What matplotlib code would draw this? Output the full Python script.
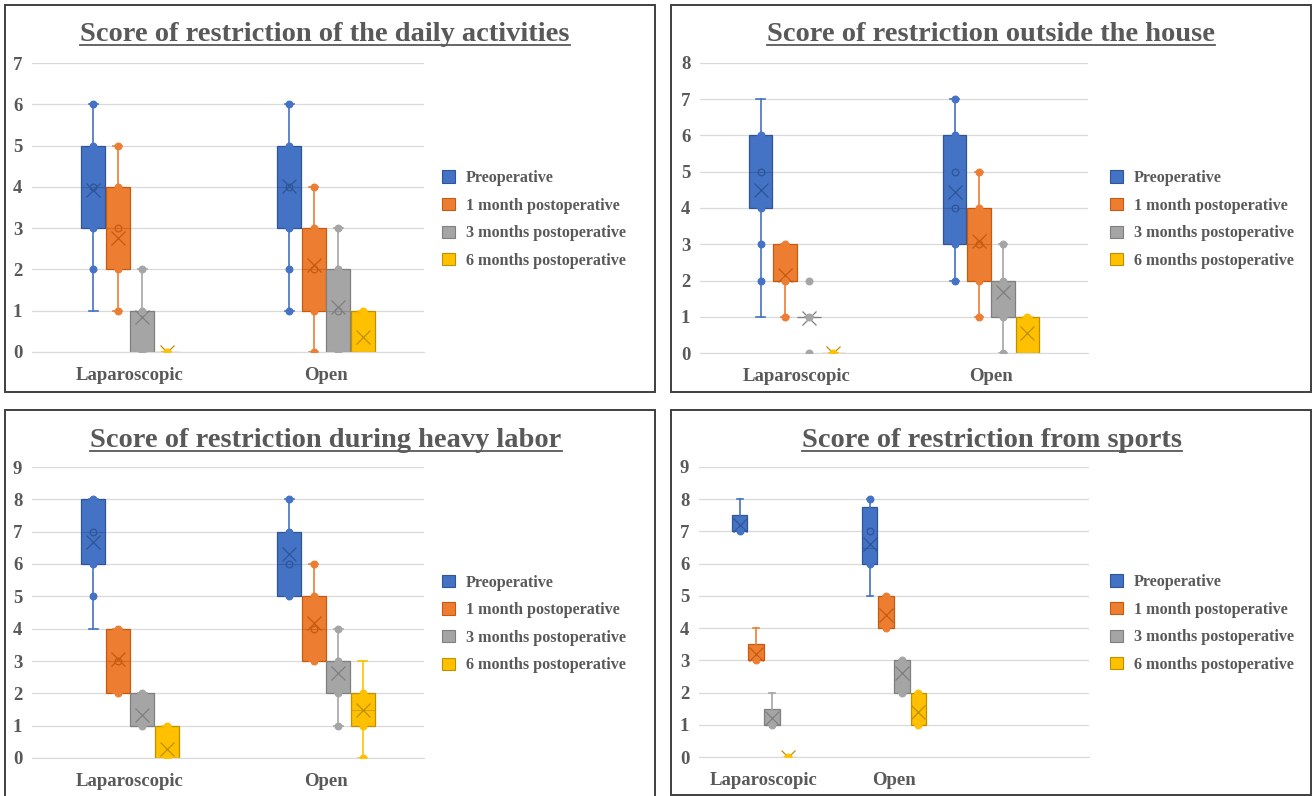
import matplotlib
matplotlib.use("Agg")
import matplotlib.pyplot as plt
from matplotlib.patches import Patch, Rectangle
from matplotlib.lines import Line2D

# ------------------------------------------------------------------
# DATA  (one row per approach: [pre, 1 month, 3 months, 6 months])
# ------------------------------------------------------------------
groups = ["Laparoscopic", "Open"]
series = ["Preoperative", "1 month postoperative",
          "3 months postoperative", "6 months postoperative"]

# daily activities
daily_low  = [[1, 1, 0, 0], [1, 0, 0, 0]]
daily_q1   = [[3, 2, 0, 0], [3, 1, 0, 0]]
daily_med  = [[4, 3, 1, 0], [4, 2, 1, 0]]
daily_q3   = [[5, 4, 1, 0], [5, 3, 2, 1]]
daily_high = [[6, 5, 2, 0], [6, 4, 3, 1]]
daily_mean = [[3.93, 2.77, 0.85, 0.0], [4.03, 2.1, 1.1, 0.37]]
daily_pts  = [[[6, 5, 4, 3, 2], [5, 4, 3, 2, 1], [2, 1, 0], [0]],
              [[6, 5, 4, 3, 2, 1], [4, 3, 2, 1, 0], [3, 2, 1, 0], [1]]]

# outside the house
house_low  = [[1, 1, 1, 0], [2, 1, 0, 0]]
house_q1   = [[4, 2, 1, 0], [3, 2, 1, 0]]
house_med  = [[5, 2, 1, 0], [4, 3, 2, 0]]
house_q3   = [[6, 3, 1, 0], [6, 4, 2, 1]]
house_high = [[7, 3, 1, 0], [7, 5, 3, 1]]
house_mean = [[4.5, 2.15, 0.97, 0.0], [4.43, 3.1, 1.67, 0.55]]
house_pts  = [[[6, 5, 4, 3, 2], [3, 2, 1], [2, 1, 0], [0]],
              [[7, 6, 5, 4, 3, 2], [5, 4, 3, 2, 1], [3, 2, 1, 0], [1]]]

# heavy labor
labor_low  = [[4, 2, 1, 0], [5, 3, 1, 0]]
labor_q1   = [[6, 2, 1, 0], [5, 3, 2, 1]]
labor_med  = [[7, 3, 1, 0], [6, 4, 3, 1.5]]
labor_q3   = [[8, 4, 2, 1], [7, 5, 3, 2]]
labor_high = [[8, 4, 2, 1], [8, 6, 4, 3]]
labor_mean = [[6.67, 3.07, 1.33, 0.27], [6.32, 4.17, 2.62, 1.5]]
labor_pts  = [[[8, 7, 6, 5], [4, 3, 2], [2, 1], [1, 0]],
              [[8, 7, 6, 5], [6, 5, 4, 3], [4, 3, 2, 1], [2, 1, 0]]]

# sports
sport_low  = [[7, 3, 1, 0], [5, 4, 2, 1]]
sport_q1   = [[7, 3, 1, 0], [6, 4, 2, 1]]
sport_med  = [[7, 3, 1, 0], [6.5, 4, 3, 1]]
sport_q3   = [[7.5, 3.5, 1.5, 0], [7.75, 5, 3, 2]]
sport_high = [[8, 4, 2, 0], [8, 5, 3, 2]]
sport_mean = [[7.2, 3.2, 1.2, 0.0], [6.6, 4.4, 2.6, 1.4]]
sport_pts  = [[[7], [3], [1], [0]],
              [[8, 7, 6], [5, 4], [3, 2], [2, 1]]]

# ------------------------------------------------------------------
# STYLE
# ------------------------------------------------------------------
FILL = ["#4472C4", "#ED7D31", "#A5A5A5", "#FFC000"]
EDGE = ["#2F5597", "#C55A11", "#7F7F7F", "#BF9000"]
TXT = "#595959"
GRID = "#D9D9D9"
SERIF = "Liberation Serif"

W, H = 1314, 796
fig = plt.figure(figsize=(W / 100, H / 100), dpi=100)


def fx(px):
    return px / W


def fy(py):
    return 1 - py / H


# panel layout in pixels: frame box, plot area, title centre, legend anchor
panels = [
    dict(title="Score of restriction of the daily activities", ymax=7, ncat=2,
         stats=(daily_low, daily_q1, daily_med, daily_q3, daily_high, daily_mean, daily_pts),
         frame=(5, 5, 655, 392), plot=(32, 63, 424, 352), tx=325, ty=41, leg=(442, 219.5)),
    dict(title="Score of restriction outside the house", ymax=8, ncat=2,
         stats=(house_low, house_q1, house_med, house_q3, house_high, house_mean, house_pts),
         frame=(671, 5, 1311, 392), plot=(700, 63, 1088, 353), tx=991, ty=41, leg=(1110, 219.5)),
    dict(title="Score of restriction during heavy labor", ymax=9, ncat=2,
         stats=(labor_low, labor_q1, labor_med, labor_q3, labor_high, labor_mean, labor_pts),
         frame=(5, 410, 655, 805), plot=(32, 467, 424, 758), tx=326, ty=447, leg=(442, 624)),
    dict(title="Score of restriction from sports", ymax=9, ncat=3,
         stats=(sport_low, sport_q1, sport_med, sport_q3, sport_high, sport_mean, sport_pts),
         frame=(671, 410, 1311, 795), plot=(699, 467, 1089, 757), tx=992, ty=447, leg=(1110, 623.5)),
]

BOX_W = 0.12
STEP = 0.125
titles = []

for p in panels:
    x0, y0, x1, y1 = p["plot"]
    ax = fig.add_axes([fx(x0), fy(y1), fx(x1 - x0), (y1 - y0) / H])
    low, q1, med, q3, high, mean, pts = p["stats"]

    for g in range(len(groups)):
        for s in range(len(series)):
            pos = g + (s - 1.5) * STEP
            st = dict(whislo=low[g][s], q1=q1[g][s], med=med[g][s], q3=q3[g][s],
                      whishi=high[g][s], mean=mean[g][s], fliers=[])
            ax.bxp([st], positions=[pos], widths=BOX_W, patch_artist=True,
                   showmeans=True, showfliers=False, capwidths=0.045,
                   boxprops=dict(facecolor=FILL[s], edgecolor=EDGE[s], linewidth=0.9),
                   whiskerprops=dict(color=FILL[s], linewidth=1.2),
                   capprops=dict(color=FILL[s], linewidth=1.2),
                   medianprops=dict(color=EDGE[s], linewidth=0.8, alpha=0.6),
                   meanprops=dict(marker="x", markersize=9.5, markeredgecolor=EDGE[s],
                                  markeredgewidth=0.9, markerfacecolor="none"))
            # individual scores: hollow inside the box, solid outside it
            for v in pts[g][s]:
                inside = q1[g][s] < v < q3[g][s]
                ax.plot(pos, v, "o", ms=4.8, zorder=4,
                        markerfacecolor="none" if inside else FILL[s],
                        markeredgecolor=EDGE[s] if inside else FILL[s],
                        markeredgewidth=0.9)

    ax.set_xlim(-0.5, p["ncat"] - 0.5)
    ax.set_ylim(0, p["ymax"])
    ax.set_yticks(range(p["ymax"] + 1))
    ax.set_xticks(range(len(groups)))
    ax.set_xticklabels(groups)
    ax.grid(axis="y", color=GRID, linewidth=0.9, zorder=0)
    ax.set_axisbelow(True)
    for side in ("top", "right", "left"):
        ax.spines[side].set_visible(False)
    ax.spines["bottom"].set_color(GRID)
    ax.tick_params(axis="y", length=0, pad=7)
    ax.tick_params(axis="x", length=0, pad=11)
    for lab in ax.get_xticklabels() + ax.get_yticklabels():
        lab.set_fontfamily(SERIF)
        lab.set_fontweight("bold")
        lab.set_fontsize(13.5)
        lab.set_color(TXT)

    handles = [Patch(facecolor=FILL[i], edgecolor=EDGE[i], linewidth=0.8) for i in range(4)]
    lx, ly = p["leg"]
    ax.legend(handles, series, loc="center left", bbox_to_anchor=(fx(lx), fy(ly)),
              bbox_transform=fig.transFigure, frameon=False, borderpad=0, borderaxespad=0,
              handlelength=0.8, handleheight=0.8, handletextpad=0.7, labelspacing=0.72,
              prop=dict(family=SERIF, weight="bold", size=11.6), labelcolor=TXT)

    t = fig.text(fx(p["tx"]), fy(p["ty"]), p["title"], ha="center", va="baseline",
                 fontsize=20.5, fontweight="bold", family=SERIF, color=TXT)
    titles.append(t)

    fx0, fy0, fx1, fy1 = p["frame"]
    fig.add_artist(Rectangle((fx(fx0), fy(fy1)), fx(fx1 - fx0), (fy1 - fy0) / H,
                             transform=fig.transFigure, fill=False,
                             edgecolor="#3F3F3F", linewidth=1.4))

# underline each title just below its baseline
fig.canvas.draw()
renderer = fig.canvas.get_renderer()
for t in titles:
    bb = t.get_window_extent(renderer).transformed(fig.transFigure.inverted())
    yb = t.get_position()[1] - 3.5 / H
    fig.add_artist(Line2D([bb.x0, bb.x1], [yb, yb], transform=fig.transFigure,
                          color=TXT, linewidth=1.3))

fig.savefig("out.png", dpi=100)
